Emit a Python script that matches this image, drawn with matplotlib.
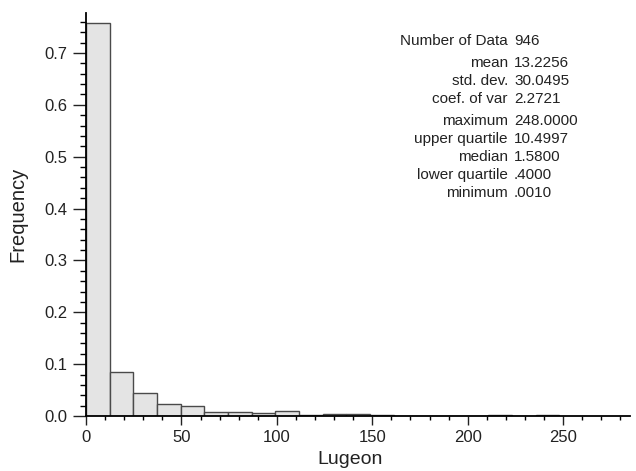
import numpy as np
import matplotlib.pyplot as plt
from matplotlib.ticker import MultipleLocator

plt.rcParams['font.family'] = ['Liberation Sans', 'DejaVu Sans']

# histogram: 20 classes between 0 and 248 Lugeon
bin_edges = np.linspace(0, 248, 21)
freqs = [0.757, 0.085, 0.044, 0.023, 0.020, 0.0083, 0.0083, 0.0064, 0.0097, 0.001,
         0.004, 0.004, 0.002, 0.0, 0.0, 0.0, 0.0, 0.0015, 0.0, 0.001]

stat_labels = ['Number of Data', 'mean', 'std. dev.', 'coef. of var',
               'maximum', 'upper quartile', 'median', 'lower quartile', 'minimum']
stat_values = ['946', '13.2256', '30.0495', '2.2721',
               '248.0000', '10.4997', '1.5800', '.4000', '.0010']
stat_rows_px = [41, 63, 81, 99, 121, 139, 157, 175, 193]

W, H = 636, 471
fig = plt.figure(figsize=(W / 100, H / 100), dpi=100)
ax = fig.add_axes([86 / W, 1 - 416 / H, 544 / W, 403 / H])

ax.bar(bin_edges[:-1], freqs, width=np.diff(bin_edges), align='edge',
       color='#e4e4e4', edgecolor='#4a4a4a', linewidth=1.0)

ax.set_xlim(0, 285)
ax.set_ylim(0, 0.777)
ax.xaxis.set_major_locator(MultipleLocator(50))
ax.xaxis.set_minor_locator(MultipleLocator(10))
ax.yaxis.set_major_locator(MultipleLocator(0.1))
ax.yaxis.set_minor_locator(MultipleLocator(0.02))
ax.yaxis.set_major_formatter(plt.FormatStrFormatter('%.1f'))

for s in ['top', 'right']:
    ax.spines[s].set_visible(False)
for s in ['left', 'bottom']:
    ax.spines[s].set_color('black')
    ax.spines[s].set_linewidth(1.3)

ax.tick_params(axis='x', which='major', length=6.5, width=1, pad=3.6, labelsize=12)
ax.tick_params(axis='x', which='minor', length=3, width=1)
ax.tick_params(axis='y', which='major', length=9.5, width=1, pad=3.6, labelsize=12)
ax.tick_params(axis='y', which='minor', length=4.5, width=1)
ax.tick_params(colors='#222222', labelcolor='#222222')

ax.set_xlabel('Lugeon', fontsize=14, color='#222222')
ax.set_ylabel('Frequency', fontsize=14.5, color='#222222')
ax.xaxis.set_label_coords(0.485, -0.088)
ax.yaxis.set_label_coords(-0.108, 0.5)

for lab, val, ypx in zip(stat_labels, stat_values, stat_rows_px):
    fig.text(508 / W, 1 - ypx / H, lab, ha='right', va='center', fontsize=11, color='#222222')
    fig.text(514 / W, 1 - ypx / H, val, ha='left', va='center', fontsize=11, color='#222222')

fig.savefig('out.png', dpi=100)
